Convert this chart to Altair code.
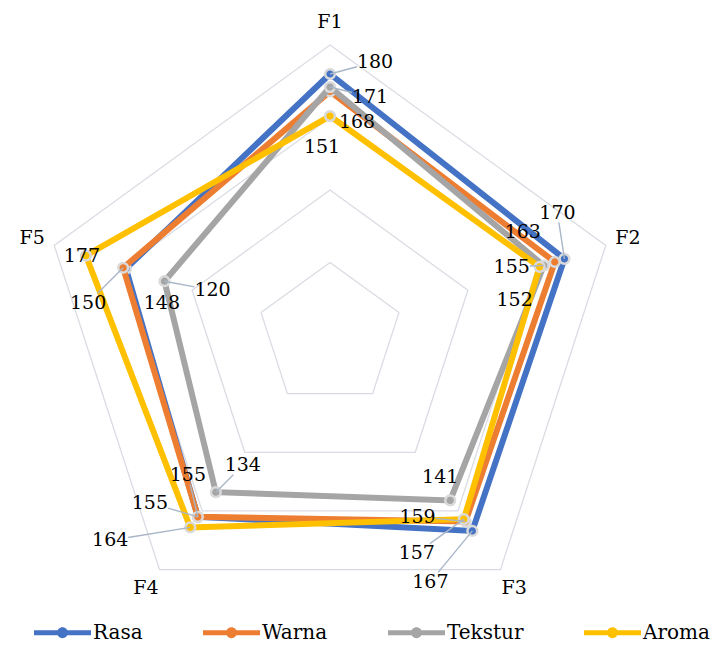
import altair as alt
import numpy as np
import pandas as pd

# ---------------- data ----------------
axis_names = ["F1", "F2", "F3", "F4", "F5"]
series_names = ["Rasa", "Warna", "Tekstur", "Aroma"]
rasa = [180, 170, 167, 155, 148]
warna = [168, 163, 159, 155, 150]
tekstur = [171, 155, 141, 134, 120]
aroma = [151, 152, 157, 164, 177]
ring_values = [50, 100, 150, 200]
axis_label_radius = 216

# ---------------- styling ----------------
colors = ["#4472C4", "#ED7D31", "#A5A5A5", "#FFC000"]
FONT = "DejaVu Serif"
PX = 1.45  # pixels per value unit
W, H = 707, 638
CX, CY = 322, 327  # centre of the radar in view pixels
XMIN = -CX / PX
XMAX = XMIN + W / PX
YMAX = CY / PX
YMIN = YMAX - H / PX

# label offsets in pixels from their point (dx, dy), per series, per axis
label_dx = {
    "Rasa": [45, -7, -42, -48, 36],
    "Warna": [27, -32, -48, -10, -35],
    "Tekstur": [40, -32, -10, 27, 48],
    "Aroma": [-8, -25, -47, -80, -4],
}
label_dy = {
    "Rasa": [-12, -46, 51, -14, 34],
    "Warna": [31, -30, -5, -42, 35],
    "Tekstur": [10, 1, -23, -27, 9],
    "Aroma": [31, 33, 34, 13, 0],
}
leader = {
    "Rasa": [1, 1, 1, 1, 0],
    "Warna": [0, 0, 1, 1, 1],
    "Tekstur": [1, 1, 0, 1, 1],
    "Aroma": [0, 0, 1, 1, 0],
}

values = {"Rasa": rasa, "Warna": warna, "Tekstur": tekstur, "Aroma": aroma}
angles = np.deg2rad(np.arange(5) * 72.0)

rows = []
for s in series_names:
    for i, (a, v) in enumerate(zip(angles, values[s])):
        x = v * np.sin(a)
        y = v * np.cos(a)
        dx, dy = label_dx[s][i], label_dy[s][i]
        hw, hh = 18.0, 9.5
        sx = hw / abs(dx) if dx != 0 else np.inf
        sy = hh / abs(dy) if dy != 0 else np.inf
        f = max(0.0, 1 - min(sx, sy))
        rows.append(dict(series=s, axis=axis_names[i], idx=i, value=v, x=x, y=y,
                         lx=x + dx / PX, ly=y - dy / PX,
                         ex=x + dx * f / PX, ey=y - dy * f / PX,
                         leader=leader[s][i]))
df = pd.DataFrame(rows)

grid = pd.DataFrame([dict(ring=r, idx=i, x=r * np.sin(a), y=r * np.cos(a))
                     for r in ring_values for i, a in enumerate(angles)])
axdf = pd.DataFrame([dict(name=n, x=axis_label_radius * np.sin(a), y=axis_label_radius * np.cos(a))
                     for n, a in zip(axis_names, angles)])

xs = alt.Scale(domain=[XMIN, XMAX], nice=False, zero=False)
ys = alt.Scale(domain=[YMIN, YMAX], nice=False, zero=False)
X = lambda f: alt.X(f, type="quantitative", scale=xs, axis=None)
Y = lambda f: alt.Y(f, type="quantitative", scale=ys, axis=None)

grid_layer = alt.Chart(grid).mark_line(
    interpolate="linear-closed", stroke="#D9DCE3", strokeWidth=1.3
).encode(x=X("x"), y=Y("y"), detail="ring:N", order="idx:Q")

legend_path = ("M-1,-0.09 L1,-0.09 L1,0.09 L-1,0.09 Z "
               "M0.19,0 A0.19,0.19 0 1,1 -0.19,0 A0.19,0.19 0 1,1 0.19,0 Z")

legend_layer = alt.Chart(df).mark_point(filled=True, size=60, opacity=1).encode(
    x=X("x"), y=Y("y"),
    color=alt.Color("series:N",
                    scale=alt.Scale(domain=series_names, range=colors),
                    legend=alt.Legend(
                        title=None, orient="none", legendX=26, legendY=596,
                        direction="horizontal", symbolType=legend_path,
                        symbolSize=3249, symbolStrokeWidth=0, symbolOpacity=1,
                        labelFont=FONT, labelFontSize=20, labelColor="#000000",
                        labelOffset=2, columnPadding=60, padding=0)),
)

layers = [grid_layer, legend_layer]
for s, c in zip(series_names, colors):
    sub = alt.Chart(df).transform_filter(alt.datum.series == s)
    layers.append(sub.mark_line(interpolate="linear-closed", stroke=c, strokeWidth=6)
                  .encode(x=X("x"), y=Y("y"), order="idx:Q"))
    layers.append(sub.mark_point(filled=True, fill=c, size=95, stroke="#DADADA",
                                 strokeWidth=2.5, opacity=1)
                  .encode(x=X("x"), y=Y("y")))

leader_layer = alt.Chart(df).transform_filter(alt.datum.leader == 1).mark_rule(
    stroke="#A9B6C8", strokeWidth=1.4
).encode(x=X("x"), y=Y("y"), x2="ex:Q", y2="ey:Q")

label_layer = alt.Chart(df).mark_text(
    font=FONT, fontSize=19, color="#000000", align="center", baseline="middle"
).encode(x=X("lx"), y=Y("ly"), text="value:Q")

axis_layer = alt.Chart(axdf).mark_text(
    font=FONT, fontSize=19, color="#000000", align="center", baseline="middle"
).encode(x=X("x"), y=Y("y"), text="name:N")

chart = alt.layer(*layers, leader_layer, label_layer, axis_layer).properties(
    width=W, height=H, autosize=alt.AutoSizeParams(type="none"), padding=0,
    background="#FFFFFF"
).configure_view(stroke=None)

chart.save("out.html", embed_options={"renderer": "svg", "actions": False})
